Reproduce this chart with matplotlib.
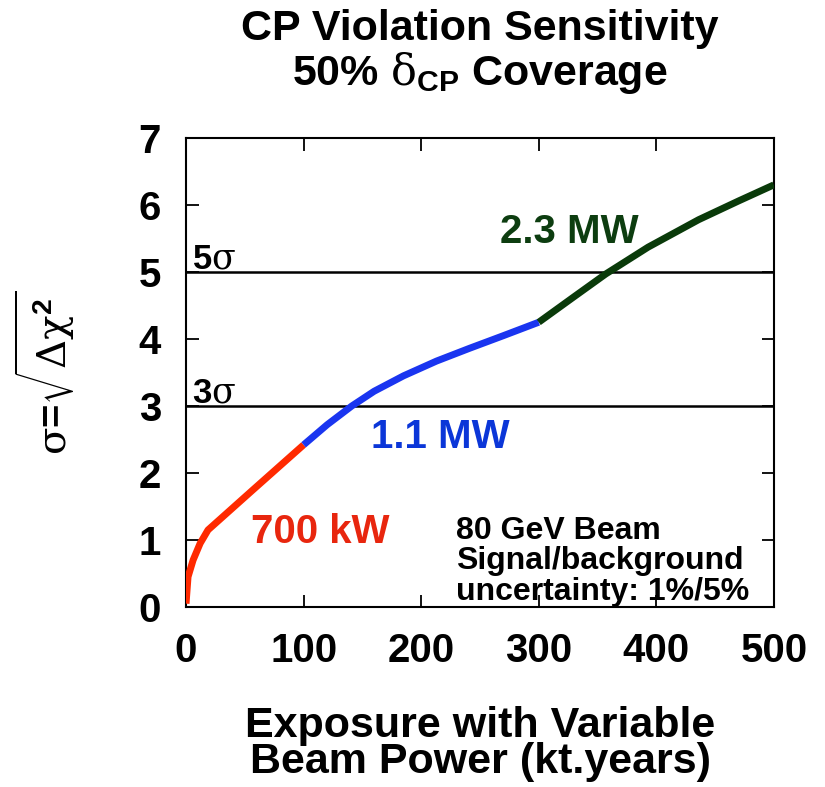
import matplotlib
matplotlib.use("Agg")
import matplotlib.pyplot as plt

plt.rcParams['font.family'] = ['Liberation Sans', 'DejaVu Sans']
plt.rcParams['mathtext.fontset'] = 'custom'
plt.rcParams['mathtext.rm'] = 'DejaVu Serif'
plt.rcParams['mathtext.bf'] = 'Liberation Sans:bold'
plt.rcParams['mathtext.it'] = 'DejaVu Serif:italic'

# exposure (kt.years) and sensitivity for each beam power stage
red_x = [0, 1.7, 6, 12, 18.7, 57, 100]
red_y = [0.05, 0.45, 0.7, 0.95, 1.15, 1.75, 2.42]
blue_x = [100, 120, 141, 160, 185, 213, 241, 270, 300]
blue_y = [2.42, 2.72, 3.0, 3.22, 3.45, 3.67, 3.86, 4.05, 4.25]
green_x = [300, 330, 357, 393, 436, 470, 500]
green_y = [4.25, 4.63, 4.97, 5.37, 5.78, 6.06, 6.3]

sigma_levels = [3, 5]
xticks = [0, 100, 200, 300, 400, 500]
yticks = [0, 1, 2, 3, 4, 5, 6, 7]

fig = plt.figure(figsize=(8.25, 7.87), dpi=100)
ax = fig.add_axes([0.2255, 0.2287, 0.7125, 0.596])

for s in sigma_levels:
    ax.axhline(s, color='black', lw=1.8, zorder=1)
    ax.text(5, s + 0.05, r'%d$\mathrm{\sigma}$' % s, fontsize=25,
            fontweight='bold', ha='left', va='baseline')

ax.plot(red_x, red_y, color='#ff2a00', lw=5, solid_capstyle='butt', zorder=3)
ax.plot(blue_x, blue_y, color='#1a35f0', lw=5, solid_capstyle='butt', zorder=3)
ax.plot(green_x, green_y, color='#0a3a0a', lw=5, solid_capstyle='butt', zorder=3)

ax.text(114, 0.96, '700 kW', color='#e8260e', fontsize=29, fontweight='bold',
        ha='center', va='baseline')
ax.text(216, 2.37, '1.1 MW', color='#0b36d8', fontsize=29, fontweight='bold',
        ha='center', va='baseline')
ax.text(326, 5.43, '2.3 MW', color='#0d3d10', fontsize=29, fontweight='bold',
        ha='center', va='baseline')
ax.text(230, 1.36, '80 GeV Beam\nSignal/background\nuncertainty: 1%/5%',
        fontsize=23, fontweight='bold', ha='left', va='top',
        linespacing=1.02)

ax.set_xlim(0, 500)
ax.set_ylim(0, 7)
ax.set_xticks(xticks)
ax.set_yticks(yticks)
ax.tick_params(direction='in', length=9, width=1.3, top=True, right=True,
               labelsize=29, pad=18)
for lab in ax.get_xticklabels() + ax.get_yticklabels():
    lab.set_fontweight('bold')
for sp in ax.spines.values():
    sp.set_linewidth(1.5)

ax.set_ylabel(r'$\mathrm{\sigma}$=$\sqrt{\mathrm{\Delta\chi}^{\mathbf{2}}}$',
              fontsize=29, fontweight='bold')
ax.yaxis.set_label_coords(-0.185, 0.5)

# title and x label placed as figure text, two centred lines each
cx = 0.582
fig.text(cx, 0.949, 'CP Violation Sensitivity', fontsize=31,
         fontweight='bold', ha='center', va='baseline')
fig.text(cx, 0.892, r'50% $\mathrm{\delta}_{\mathbf{CP}}$ Coverage', fontsize=31,
         fontweight='bold', ha='center', va='baseline')
fig.text(cx, 0.064, 'Exposure with Variable', fontsize=31,
         fontweight='bold', ha='center', va='baseline')
fig.text(cx, 0.018, 'Beam Power (kt.years)', fontsize=31,
         fontweight='bold', ha='center', va='baseline')

fig.savefig('out.png', dpi=100)
